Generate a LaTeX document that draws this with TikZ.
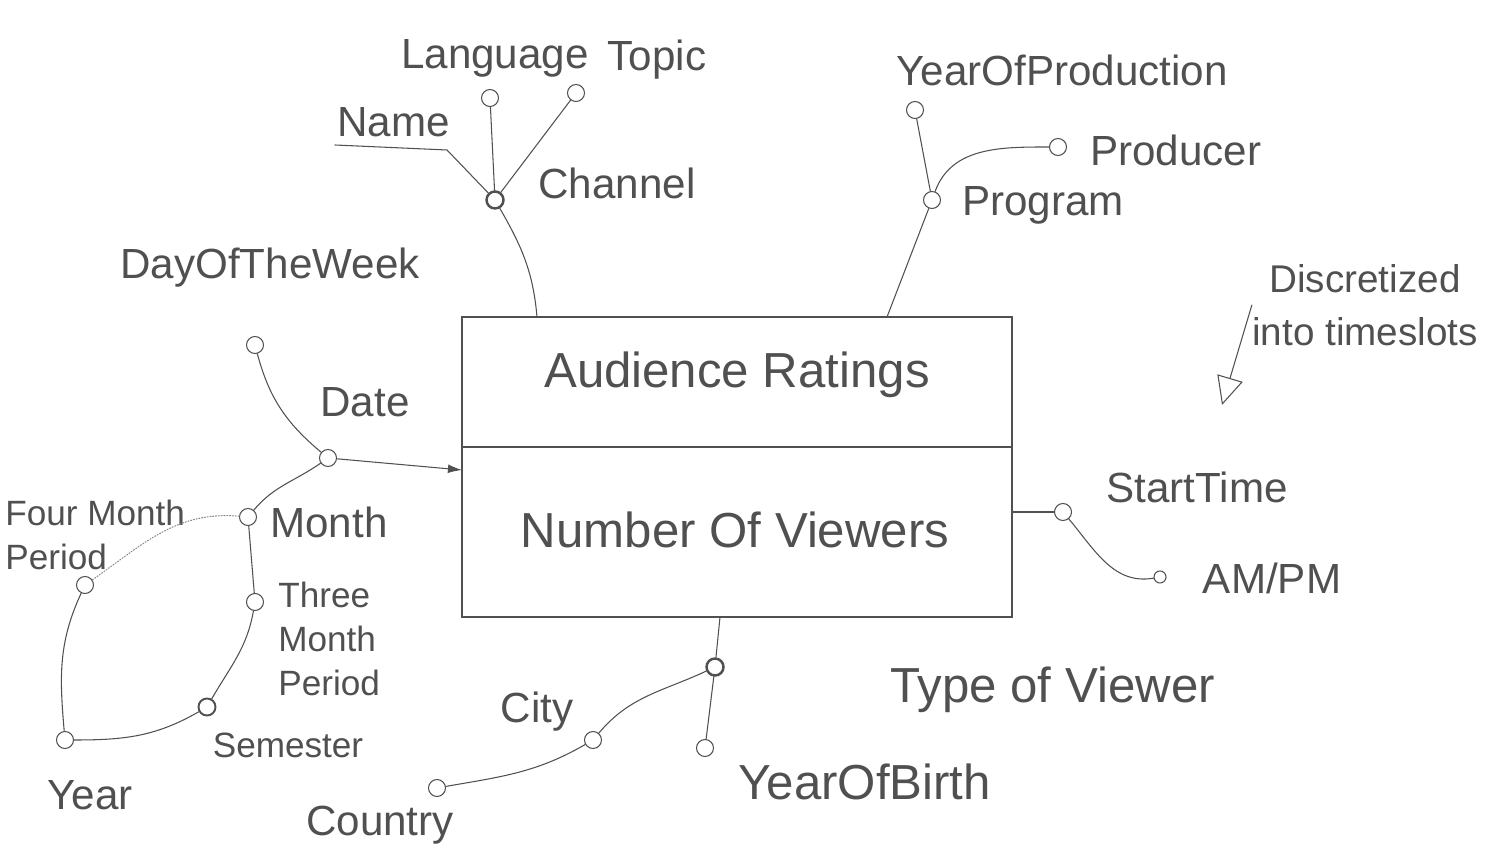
\documentclass[tikz,border=0pt]{standalone}
\usepackage{fontspec}
\setmainfont{Liberation Sans}
\usetikzlibrary{arrows.meta}
\definecolor{pencil}{RGB}{80,80,80}
\tikzset{
	attr/.style={circle, draw=pencil, line width=0.6pt, inner sep=0pt, minimum size=0.34cm, fill=white},
	dimattr/.style={attr, line width=1.4pt},
	lbl/.style={text=pencil, font=\fontsize{24}{28}\selectfont, inner sep=0pt},
	biglbl/.style={lbl, font=\fontsize{28}{32}\selectfont},
	smalllbl/.style={lbl, font=\fontsize{20}{25}\selectfont},
	link/.style={draw=pencil, line width=0.6pt}
}

\begin{document}
\begin{tikzpicture}[x=0.02cm, y=-0.02cm, line cap=round]
		%%%%% START %%%%%
		\useasboundingbox (0,0) rectangle (1510,854);
		
		%%%%% FACT %%%%%
		\node[draw=pencil, line width=0.7pt, minimum width=11cm, minimum height=6cm, inner sep=0pt] (fact) at (737,467) {};
		\coordinate (divl) at (462,447);
		\coordinate (divr) at (1012,447);
		\draw[link] (divl) -- (divr);
		\node[biglbl] (factname) at (737,375) {Audience Ratings};
		\node[biglbl] (measure) at (735,530) {Number Of Viewers};
		
		%%%%% CHANNEL %%%%%
		\coordinate (chin) at (537,317);
		\node[dimattr] (channel) at (495,200) {};
		\node[lbl, anchor=west] (lblchannel) at (538,183) {Channel};
		\node[attr] (language) at (490,98) {};
		\node[lbl] (lbllanguage) at (495,58) {Language};
		\node[attr] (topic) at (576,93) {};
		\node[lbl] (lbltopic) at (657,60) {Topic};
		\coordinate (nameend) at (335,145);
		\coordinate (namebend) at (447,150);
		\node[lbl, anchor=south west] (lblname) at (337,137) {Name};
		\draw[link] (channel) to[out=-60, in=95] (chin);
		\draw[link] (channel) -- (namebend) -- (nameend);
		\draw[link] (channel) -- (language);
		\draw[link] (channel) -- (topic);
		
		%%%%% PROGRAM %%%%%
		\coordinate (progin) at (887,317);
		\node[attr] (program) at (932,200) {};
		\node[lbl, anchor=west] (lblprogram) at (962,205) {Program};
		\node[attr] (yearprod) at (915,110) {};
		\node[lbl] (lblyearprod) at (1062,70) {YearOfProduction};
		\node[attr] (producer) at (1058,147) {};
		\node[lbl, anchor=west] (lblproducer) at (1090,150) {Producer};
		\draw[link] (program) -- (progin);
		\draw[link] (program) -- (yearprod);
		\draw[link] (program) to[out=70, in=180] (producer);
		
		%%%%% DATE %%%%%
		\coordinate (datein) at (462,470);
		\node[attr] (date) at (328,458) {};
		\node[lbl] (lbldate) at (365,402) {Date};
		\node[attr] (dow) at (255,345) {};
		\node[lbl] (lbldow) at (270,268) {DayOfTheWeek};
		\node[attr] (month) at (248,517) {};
		\node[lbl, anchor=west] (lblmonth) at (270,522) {Month};
		\node[attr] (fourmonth) at (85,585) {};
		\node[smalllbl, anchor=west, align=left] (lblfourmonth) at (5,535) {Four Month\\Period};
		\node[attr] (threemonth) at (255,602) {};
		\node[smalllbl, anchor=north west, align=left] (lblthreemonth) at (278,582) {Three\\Month\\Period};
		\node[dimattr, line width=1.1pt] (semester) at (207,707) {};
		\node[smalllbl] (lblsemester) at (288,745) {Semester};
		\node[attr] (year) at (65,740) {};
		\node[lbl] (lblyear) at (90,795) {Year};
		\draw[link, -{Latex[length=8pt, width=5pt]}] (date) -- (datein);
		\draw[link] (dow) to[out=-75, in=140] (date);
		\draw[link] (date) to[out=215, in=50] (month);
		\draw[link, densely dotted, draw=pencil!70] (month) to[out=175, in=35] (fourmonth);
		\draw[link] (month) -- (threemonth);
		\draw[link] (threemonth) to[out=-100, in=60] (semester);
		\draw[link] (semester) to[out=210, in=0] (year);
		\draw[link] (fourmonth) to[out=-115, in=95] (year);
		
		%%%%% VIEWER %%%%%
		\coordinate (viewerin) at (720,617);
		\node[dimattr] (viewer) at (715,667) {};
		\node[biglbl, anchor=west] (lblviewer) at (890,690) {Type of Viewer};
		\node[attr] (birth) at (705,748) {};
		\node[biglbl, anchor=west] (lblbirth) at (738,782) {YearOfBirth};
		\node[attr] (city) at (593,740) {};
		\node[lbl] (lblcity) at (537,712) {City};
		\node[attr] (country) at (437,788) {};
		\node[lbl] (lblcountry) at (380,825) {Country};
		\draw[link] (viewerin) -- (viewer);
		\draw[link] (viewer) -- (birth);
		\draw[link] (viewer) to[out=205, in=50] (city);
		\draw[link] (city) to[out=210, in=10] (country);
		
		%%%%% START TIME %%%%%
		\coordinate (startin) at (1012,512);
		\node[attr] (start) at (1063,512) {};
		\node[lbl] (lblstart) at (1197,487) {StartTime};
		\node[attr, minimum size=0.24cm] (ampm) at (1160,577) {};
		\node[lbl] (lblampm) at (1272,578) {AM/PM};
		\draw[link] (startin) -- (start);
		\draw[link] (start) to[out=-50, in=190] (ampm);
		
		%%%%% NOTE %%%%%
		\node[lbl, font=\fontsize{22}{30}\selectfont, align=center] (note) at (1365,305) {Discretized\\into timeslots};
		\coordinate (notetip) at (1222,405);
		\draw[link, -{Triangle[open, length=16pt, width=15pt]}] (note.west) -- (notetip);
		
		%%%%% END %%%%%
\end{tikzpicture}
\end{document}
